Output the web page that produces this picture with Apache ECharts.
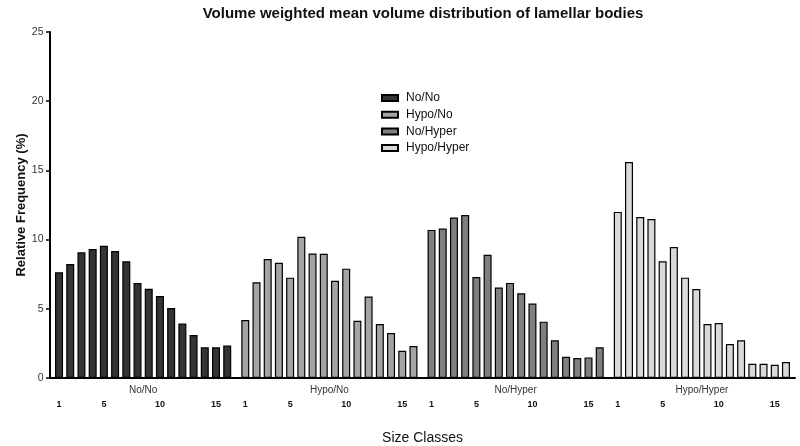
<!DOCTYPE html>
<html>
<head>
<meta charset="utf-8">
<script src="https://cdn.jsdelivr.net/npm/echarts@6/dist/echarts.min.js"></script>
<style>html,body{margin:0;padding:0;background:#fff}#c{width:800px;height:446px}</style>
</head>
<body>
<div id="c"></div>
<script>
const groups = ['No/No', 'Hypo/No', 'No/Hyper', 'Hypo/Hyper'];
const sizeClasses = ['1','2','3','4','5','6','7','8','9','10','11','12','13','14','15','16'];
const labeledClasses = ['1', '5', '10', '15'];
const noNo      = [7.64, 8.24, 9.08, 9.32, 9.56, 9.18, 8.43, 6.86, 6.45, 5.92, 5.06, 3.93, 3.11, 2.22, 2.22, 2.34];
const hypoNo    = [4.19, 6.92, 8.60, 8.33, 7.25, 10.2, 9.00, 8.98, 7.03, 7.90, 4.13, 5.89, 3.90, 3.25, 1.97, 2.31];
const noHyper   = [10.7, 10.8, 11.6, 11.77, 7.30, 8.90, 6.53, 6.87, 6.12, 5.38, 4.07, 2.72, 1.54, 1.45, 1.49, 2.22];
const hypoHyper = [12.0, 15.6, 11.63, 11.49, 8.43, 9.47, 7.25, 6.43, 3.90, 3.97, 2.46, 2.72, 1.03, 1.03, 0.96, 1.16];
const groupValues = [noNo, hypoNo, noHyper, hypoHyper];
const groupColors = ['#343434', '#a4a4a4', '#7f7f7f', '#d9d9d9'];

const FONT = '"Liberation Sans", Arial, sans-serif';
const chart = echarts.init(document.getElementById('c'), null, {renderer: 'canvas'});

const barSeries = sizeClasses.map((sc, k) => ({
  type: 'bar',
  name: sc,
  xAxisIndex: 0,
  yAxisIndex: 0,
  barGap: '40%',
  barCategoryGap: '5.4%',
  silent: true,
  itemStyle: {borderColor: '#000', borderWidth: 1.2},
  label: {
    show: labeledClasses.indexOf(sc) >= 0,
    position: 'bottom',
    distance: 22,
    formatter: sc,
    fontFamily: FONT,
    fontSize: 9,
    fontWeight: 'bold',
    color: '#111'
  },
  data: groupValues.map((arr, g) => ({value: arr[k], itemStyle: {color: groupColors[g]}}))
}));

const legendSeries = groups.map((gname, g) => ({
  type: 'bar',
  name: gname,
  xAxisIndex: 1,
  yAxisIndex: 0,
  itemStyle: {color: groupColors[g], borderColor: '#000', borderWidth: 1},
  data: []
}));

chart.setOption({
  animation: false,
  backgroundColor: '#fff',
  title: {
    text: 'Volume weighted mean volume distribution of lamellar bodies',
    left: 418,
    textAlign: 'center',
    top: 1,
    textStyle: {fontFamily: FONT, fontSize: 15, fontWeight: 'bold', color: '#111'}
  },
  legend: {
    data: groups,
    orient: 'vertical',
    left: 376,
    top: 87,
    icon: 'rect',
    itemWidth: 16,
    itemHeight: 6,
    itemGap: 4.7,
    selectedMode: false,
    textStyle: {fontFamily: FONT, fontSize: 12, color: '#111', padding: [0, 0, 0, 3]}
  },
  grid: {left: 50, right: 5, top: 32, bottom: 68, containLabel: false, outerBoundsMode: 'none'},
  xAxis: [{
    type: 'category',
    data: groups,
    name: 'Size Classes',
    nameLocation: 'middle',
    nameGap: 53,
    nameMoveOverlap: false,
    nameTextStyle: {fontFamily: FONT, fontSize: 14, color: '#111'},
    axisLine: {lineStyle: {color: '#000', width: 2}},
    axisTick: {alignWithLabel: true, length: 4, lineStyle: {color: '#000', width: 2}},
    axisLabel: {fontFamily: FONT, fontSize: 10, color: '#333', margin: 7},
    splitLine: {show: false}
  }, {
    type: 'category',
    show: false,
    data: []
  }],
  yAxis: {
    type: 'value',
    min: 0,
    max: 25,
    interval: 5,
    name: 'Relative Frequency (%)',
    nameLocation: 'middle',
    nameGap: 22,
    nameMoveOverlap: false,
    nameTextStyle: {fontFamily: FONT, fontSize: 13, fontWeight: 'bold', color: '#111'},
    axisLine: {show: true, lineStyle: {color: '#000', width: 2}},
    axisTick: {show: true, length: 4, lineStyle: {color: '#000', width: 1.5}},
    axisLabel: {fontFamily: FONT, fontSize: 10.5, color: '#333', margin: 6.5},
    splitLine: {show: false}
  },
  series: barSeries.concat(legendSeries)
});
</script>
</body>
</html>
